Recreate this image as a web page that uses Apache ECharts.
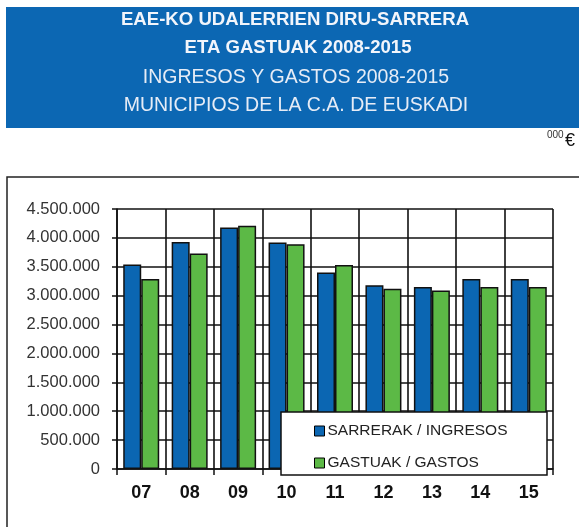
<!DOCTYPE html>
<html>
<head>
<meta charset="utf-8">
<script src="https://cdn.jsdelivr.net/npm/echarts@6/dist/echarts.min.js"></script>
<style>
html,body{margin:0;padding:0;background:#fff;}
#chart{width:579px;height:527px;}
</style>
</head>
<body>
<div id="chart"></div>
<script>
var years = ['07', '08', '09', '10', '11', '12', '13', '14', '15'];
var ingresos = [3540000, 3930000, 4180000, 3920000, 3400000, 3180000, 3150000, 3290000, 3290000];
var gastos = [3290000, 3730000, 4210000, 3890000, 3530000, 3120000, 3090000, 3150000, 3150000];
var titleLines = ['EAE-KO UDALERRIEN DIRU-SARRERA', 'ETA GASTUAK 2008-2015', 'INGRESOS Y GASTOS 2008-2015', 'MUNICIPIOS DE LA C.A. DE EUSKADI'];
var seriesNames = ['SARRERAK / INGRESOS', 'GASTUAK / GASTOS'];

var font = '"Liberation Sans", Arial, sans-serif';
var myChart = echarts.init(document.getElementById('chart'));

function fmt(v){
    return String(v).replace(/\B(?=(\d{3})+(?!\d))/g, '.');
}

myChart.setOption({
    animation: false,
    textStyle: {fontFamily: font},
    graphic: [
        {type: 'rect', shape: {x: 6, y: 7, width: 580, height: 121}, style: {fill: '#0c67b3'}, z: 0},
        {type: 'text', x: 295, y: 20, style: {text: titleLines[0], fill: '#f2f5fb', font: 'bold 18.6px ' + font, align: 'center', verticalAlign: 'middle'}},
        {type: 'text', x: 298, y: 48, style: {text: titleLines[1], fill: '#f2f5fb', font: 'bold 18.6px ' + font, align: 'center', verticalAlign: 'middle'}},
        {type: 'text', x: 296, y: 78, style: {text: titleLines[2], fill: '#e6ecf6', font: '19.5px ' + font, align: 'center', verticalAlign: 'middle'}},
        {type: 'text', x: 296, y: 106, style: {text: titleLines[3], fill: '#e6ecf6', font: '19.5px ' + font, align: 'center', verticalAlign: 'middle'}},
        {type: 'text', x: 547, y: 135, style: {text: '000', fill: '#333', font: '10px ' + font, verticalAlign: 'middle'}},
        {type: 'text', x: 565, y: 141, style: {text: '€', fill: '#111', font: '18px ' + font, verticalAlign: 'middle'}},
        // chart frame
        {type: 'rect', shape: {x: 7, y: 177, width: 600, height: 400}, style: {fill: 'none', stroke: '#222', lineWidth: 1.5}, z: 0},
        // legend box
        {type: 'rect', shape: {x: 281, y: 412, width: 266, height: 63}, style: {fill: '#fff', stroke: '#111', lineWidth: 1.5}, z: 50}
    ],
    legend: {
        orient: 'vertical',
        left: 309,
        top: 418,
        itemWidth: 10,
        itemHeight: 10,
        itemGap: 16,
        z: 60,
        icon: 'rect',
        itemStyle: {borderColor: '#000', borderWidth: 1},
        textStyle: {fontSize: 15.5, color: '#222', fontFamily: font, padding: [0, 0, 0, -2]},
        data: seriesNames
    },
    grid: {left: 117, right: 26, top: 209, bottom: 58},
    xAxis: {
        type: 'category',
        data: years,
        axisLine: {lineStyle: {color: '#111', width: 1.5}},
        axisTick: {show: true, length: 6, lineStyle: {color: '#111', width: 1.5}},
        splitLine: {show: true, lineStyle: {color: '#111', width: 1.6}},
        axisLabel: {fontSize: 18, fontWeight: 'bold', color: '#111', margin: 15, fontFamily: font}
    },
    yAxis: {
        type: 'value',
        min: 0,
        max: 4500000,
        interval: 500000,
        axisLine: {show: true, lineStyle: {color: '#111', width: 1.5}},
        axisTick: {show: true, length: 5, lineStyle: {color: '#111', width: 1.5}},
        splitLine: {lineStyle: {color: '#111', width: 1.6}},
        axisLabel: {fontSize: 16.5, color: '#333', margin: 17, fontFamily: font, formatter: fmt}
    },
    series: [{
        name: seriesNames[0],
        type: 'bar',
        data: ingresos,
        barWidth: 18,
        barGap: '0%',
        itemStyle: {color: '#0b66b2', borderColor: '#111', borderWidth: 1.5}
    }, {
        name: seriesNames[1],
        type: 'bar',
        data: gastos,
        barWidth: 18,
        barGap: '0%',
        itemStyle: {color: '#5cb946', borderColor: '#111', borderWidth: 1.5}
    }]
});
</script>
</body>
</html>
